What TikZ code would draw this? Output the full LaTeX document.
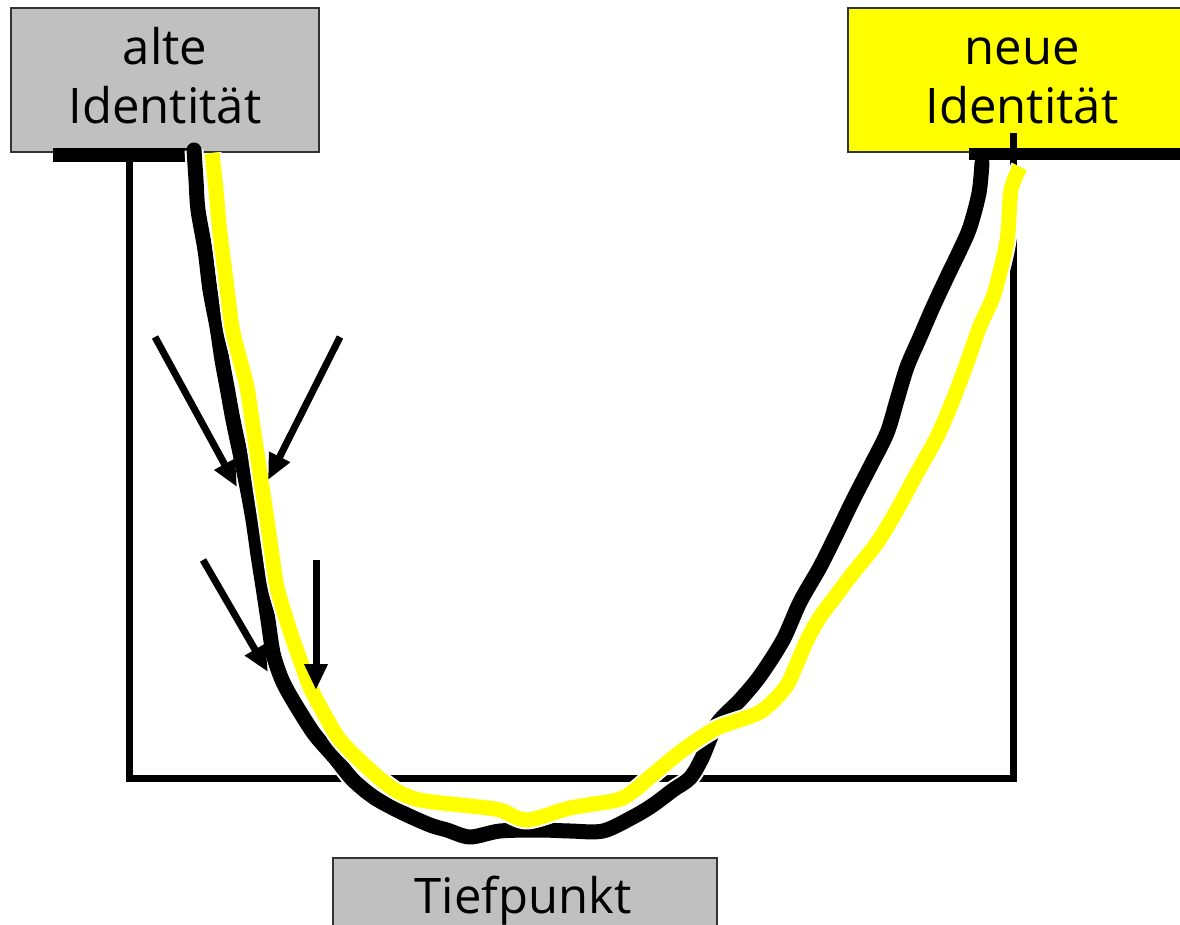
\documentclass[tikz,border=0pt]{standalone}
\usepackage{fontspec}
\setmainfont{Open Sans}
\usetikzlibrary{arrows.meta}
\definecolor{boxgray}{HTML}{C0C0C0}
\definecolor{boxyellow}{HTML}{FFFF00}
\begin{document}
\begin{tikzpicture}[x=1pt,y=-1pt,
  boxframe/.style={draw=black!80,line width=1.5pt,inner sep=0pt},
  label/.style={anchor=base,inner sep=0pt,font=\fontsize{49}{59}\selectfont},
  frameline/.style={line width=7pt,line cap=rect},
  bar/.style={line width=14pt},
  blackcurve/.style={line width=15pt,line join=round,line cap=round,black},
  yellowcurve/.style={line width=15pt,line join=round,line cap=butt,boxyellow},
  halo/.style={line width=19pt,line join=round,white},
  pointer/.style={line width=7pt,-{Triangle[length=26pt,width=22pt]}}]
\useasboundingbox (0,0) rectangle (1180,925);
\fill[white] (0,0) rectangle (1180,925);
% boxes
\node[boxframe,fill=boxgray,minimum width=308pt,minimum height=144pt] (alt) at (165,80) {};
\fill[boxyellow] (848,8) rectangle (1185,152);
\draw[black!80,line width=1.5pt] (1185,8) -- (848,8) -- (848,152) -- (1185,152);
\node[boxframe,fill=boxgray,minimum width=384pt,minimum height=90pt,anchor=north west] (tief) at (332,857) {};
% labels
\node[label] (alt1) at (165,65) {alte};
\node[label] (alt2) at (165,124) {Identität};
\node[label] (neu1) at (1022,65) {neue};
\node[label] (neu2) at (1022,124) {Identität};
\node[label] (tiefl) at (523,913) {Tiefpunkt};
% frame
\coordinate (fl) at (129,157);
\coordinate (fbl) at (129,778);
\coordinate (fbr) at (1013,778);
\coordinate (fr) at (1013,137);
\draw[frameline] (fl) -- (fbl) -- (fbr) -- (fr);
\coordinate (bl1) at (53,155); \coordinate (bl2) at (197,155);
\coordinate (br1) at (969,154.5); \coordinate (br2) at (1185,154.5);
\draw[bar] (bl1) -- (bl2);
\draw[line width=12pt] (br1) -- (br2);
% curves
\def\blackpts{(194,150) (196,180) (198,210) (205,250) (210,290) (217,327) (222,360) (227,387) (233,420) (240,453) (247,487) (253,520) (258,555) (263,587) (268,620) (273,653) (280,675) (287,690) (300,712) (315,735) (335,758) (353,780) (375,798) (403,813) (430,825) (447,830) (470,837) (500,831) (540,830) (570,831) (603,831) (633,817) (653,805) (673,790) (690,778) (702,758) (717,724) (740,700) (760,676) (783,640) (800,602) (820,567) (837,533) (853,500) (870,467) (887,433) (897,400) (907,367) (920,337) (933,307) (947,277) (960,250) (970,227) (979,193) (982,163)}
\def\yellowpts{(212,153) (216,190) (220,233) (226,280) (232,327) (240,360) (247,387) (252,420) (257,453) (262,487) (267,520) (272,555) (277,587) (285,615) (293,640) (302,665) (310,687) (322,710) (340,740) (370,770) (395,790) (420,800) (470,806) (500,810) (527,820) (570,808) (617,800) (635,790) (650,777) (683,750) (717,728) (760,712) (785,688) (795,668) (807,640) (820,617) (835,597) (853,573) (877,543) (897,510) (917,473) (937,437) (953,400) (968,360) (980,326) (993,297) (1003,260) (1008,233) (1011,190) (1020,167)}
\draw[halo] plot[smooth,tension=0.5] coordinates \blackpts;
\draw[blackcurve] plot[smooth,tension=0.5] coordinates \blackpts;
\draw[halo] plot[smooth,tension=0.5] coordinates \yellowpts;
\draw[yellowcurve] plot[smooth,tension=0.5] coordinates \yellowpts;
% arrows
\coordinate (a1s) at (155,337); \coordinate (a1e) at (237,487);
\coordinate (a2s) at (340,337); \coordinate (a2e) at (268,480);
\coordinate (a3s) at (203,560); \coordinate (a3e) at (268,672);
\coordinate (a4s) at (316,560); \coordinate (a4e) at (316,690);
\draw[pointer] (a1s) -- (a1e);
\draw[pointer] (a2s) -- (a2e);
\draw[pointer] (a3s) -- (a3e);
\draw[pointer] (a4s) -- (a4e);
\end{tikzpicture}
\end{document}
